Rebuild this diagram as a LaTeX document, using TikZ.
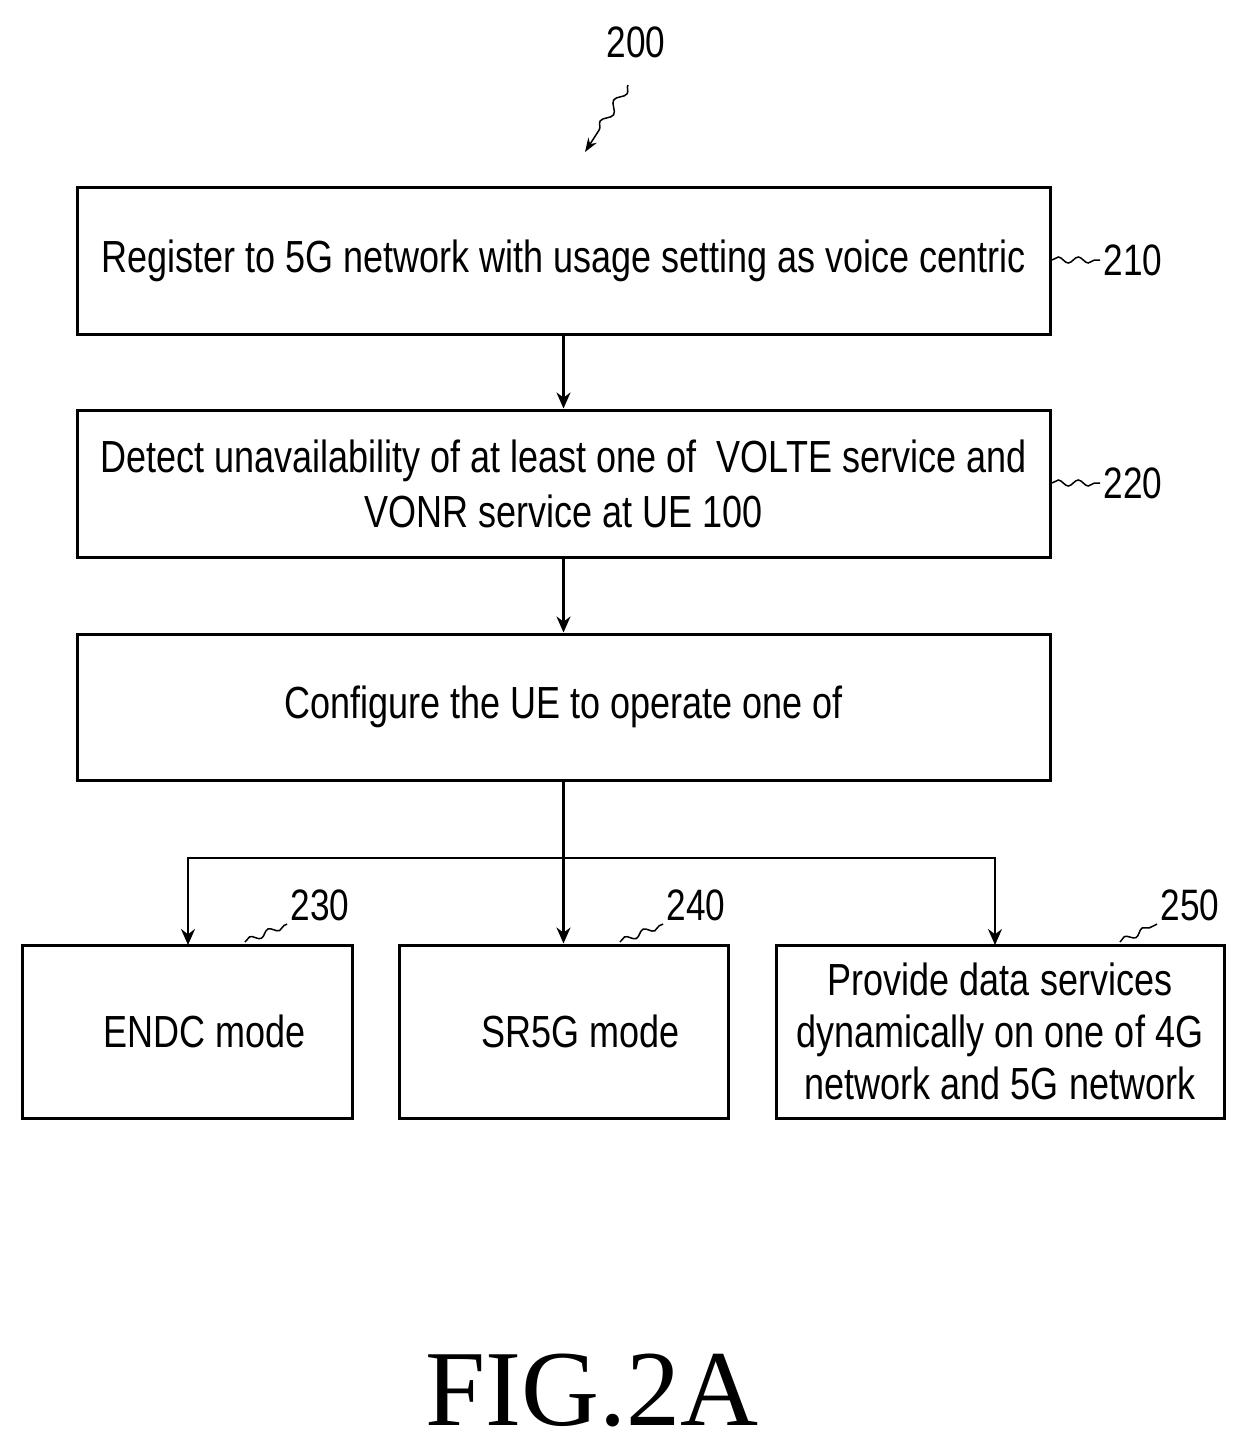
\documentclass[tikz,border=0pt]{standalone}
\usepackage{fontspec}
\setmainfont{Liberation Sans}[FakeStretch=0.8]
\newfontfamily\figfont{Liberation Serif}
\usetikzlibrary{arrows.meta,decorations.pathmorphing}
\begin{document}
\begin{tikzpicture}[x=1pt,y=-1pt,
  box/.style={draw,line width=3pt,inner sep=0pt,align=center,font=\fontsize{45}{55}\selectfont},
  lab/.style={font=\fontsize{44}{50}\selectfont},
  arr/.style={line width=2.2pt,-{Stealth[length=16pt,width=14pt]}},
  sq/.style={line width=1.5pt,decorate,decoration={snake,amplitude=3pt,segment length=20pt}}]
\useasboundingbox (0,0) rectangle (1246,1448);
\node[box,minimum width=973pt,minimum height=147pt] (b210) at (563.5,260.5) {Register to 5G network with usage setting as voice centric};
\node[box,minimum width=973pt,minimum height=147pt] (b220) at (563.5,483.5) {Detect unavailability of at least one of \ VOLTE service and\\VONR service at UE 100};
\node[box,minimum width=973pt,minimum height=146pt] (b3) at (563.5,707) {Configure the UE to operate one of};
\node[box,minimum width=330pt,minimum height=173pt] (b230) at (187,1031.5) {\hspace*{36pt}ENDC mode};
\node[box,minimum width=329pt,minimum height=173pt] (b240) at (563.5,1031.5) {\hspace*{34pt}SR5G mode};
\node[box,minimum width=448pt,minimum height=173pt,font=\fontsize{45}{52}\selectfont] (b250) at (1000,1031.5) {Provide data services\\dynamically on one of 4G\\network and 5G network};
\draw[arr] (b210.south) -- (b220.north);
\draw[arr] (b220.south) -- (b3.north);
\coordinate (j) at (563.5,858);
\draw[line width=2.2pt] (b3.south) -- (j);
\draw[arr] (j) -- (b240.north);
\draw[arr] (j) -| (188,945);
\draw[arr] (j) -| (995,945);
\node[lab] (l200) at (636,42) {200};
\coordinate (s200) at (628,85);
\draw[line width=1.5pt,-{Stealth[length=14pt,width=10pt]},decorate,decoration={snake,amplitude=4pt,segment length=25pt,post length=15pt}] (s200) -- (585,152);
\node[lab] (l210) at (1133,260) {210};
\draw[sq] (1052,260) -- (l210.west);
\node[lab] (l220) at (1133,483) {220};
\draw[sq] (1052,483) -- (l220.west);
\node[lab] (l230) at (320,905) {230};
\draw[sq] (245,942) -- (l230.south west);
\node[lab] (l240) at (696,905) {240};
\draw[sq] (620,942) -- (l240.south west);
\node[lab] (l250) at (1190,905) {250};
\draw[sq] (1120,942) -- (l250.south west);
\node[font=\figfont\fontsize{108}{120}\selectfont] (fig) at (592,1390) {FIG.2A};
\end{tikzpicture}
\end{document}
